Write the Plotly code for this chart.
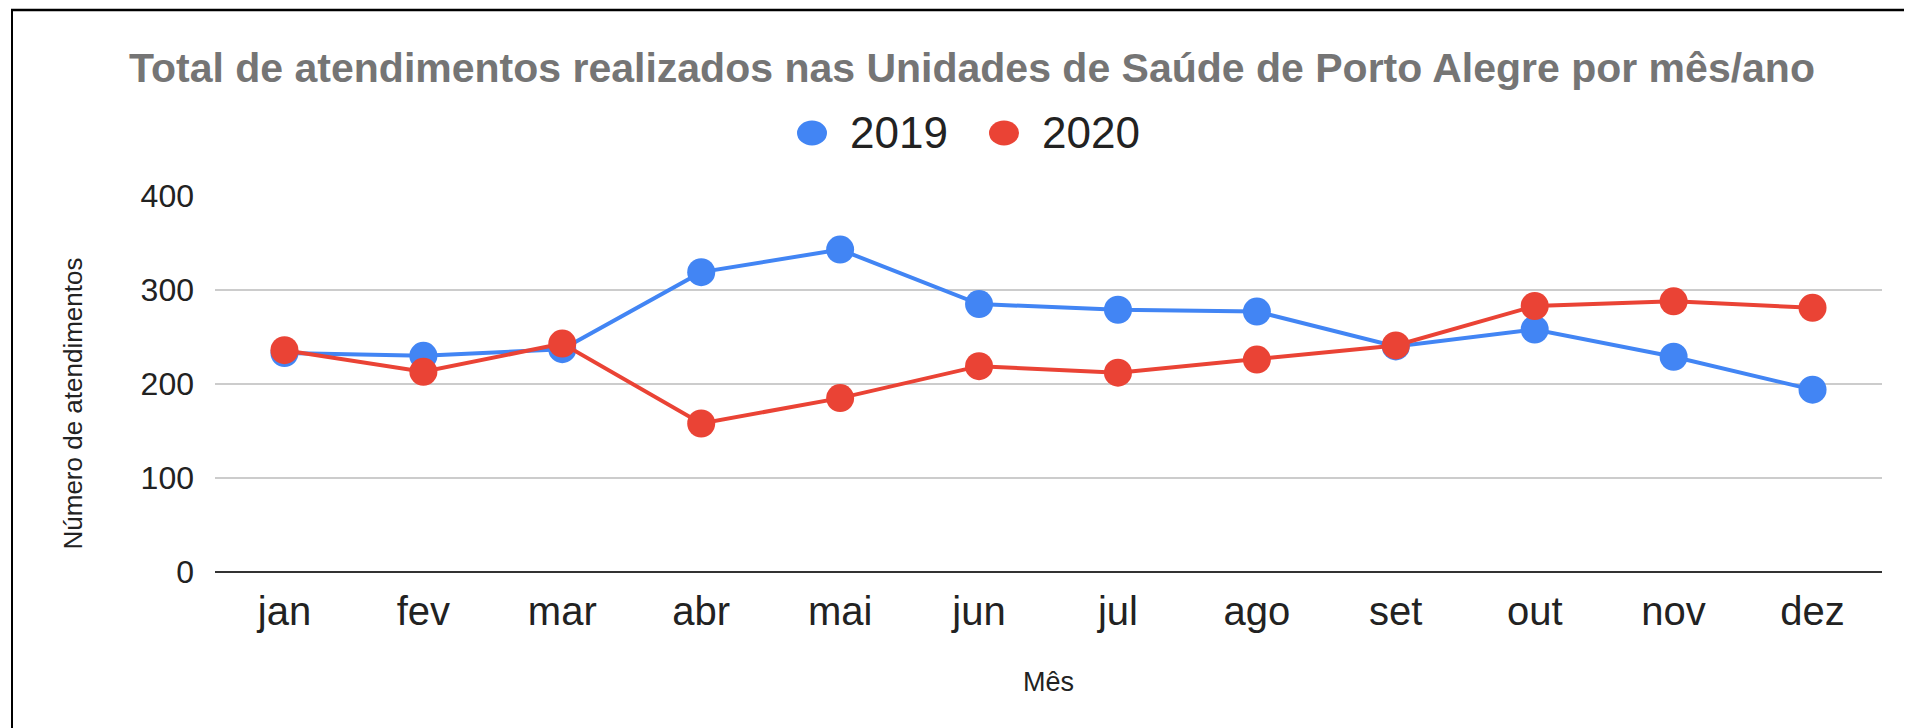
import plotly.graph_objects as go

months = ["jan", "fev", "mar", "abr", "mai", "jun", "jul", "ago", "set", "out", "nov", "dez"]
values_2019 = [233, 230, 237, 319, 343, 285, 279, 277, 240, 258, 229, 194]
values_2020 = [236, 213, 243, 158, 185, 219, 212, 226, 241, 283, 288, 281]
y_ticks = [0, 100, 200, 300, 400]
series_names = ["2019", "2020"]

title_text = "Total de atendimentos realizados nas Unidades de Saúde de Porto Alegre por mês/ano"
x_title = "Mês"
y_title = "Número de atendimentos"

FONT = "Liberation Sans, Arial, sans-serif"
BLUE = "#4285F4"
RED = "#EA4335"

# the page body has an 8px default margin; work in screen pixels and shift
OFF = 8
SW, SH = 1912, 728
W, H = SW - OFF, SH - OFF
# plot area in screen pixels
PX0, PX1, PY0, PY1 = 215, 1882, 196, 572

L, R, T, B = PX0 - OFF, SW - PX1, PY0 - OFF, SH - PY1

fig = go.Figure()
fig.add_trace(go.Scatter(x=months, y=values_2019, name=series_names[0], mode="lines+markers",
                         line=dict(color=BLUE, width=4), marker=dict(size=28, color=BLUE),
                         showlegend=False))
fig.add_trace(go.Scatter(x=months, y=values_2020, name=series_names[1], mode="lines+markers",
                         line=dict(color=RED, width=4), marker=dict(size=28, color=RED),
                         showlegend=False))

pw = PX1 - PX0
ph = PY1 - PY0
def px_x(px):
    return (px - PX0) / pw
def px_y(py):
    return (PY1 - py) / ph

shapes = [
    dict(type="line", xref="paper", yref="paper", x0=px_x(12), x1=px_x(12), y0=px_y(9), y1=px_y(740),
         line=dict(color="black", width=2)),
    dict(type="line", xref="paper", yref="paper", x0=px_x(11), x1=px_x(1920), y0=px_y(10), y1=px_y(10),
         line=dict(color="black", width=2.5)),
]

# custom legend (circle symbols + labels)
legend_items = [(series_names[0], BLUE, 812, 848), (series_names[1], RED, 1004, 1040)]
annotations = []
for name, col, cx, tx in legend_items:
    shapes.append(dict(type="circle", xref="paper", yref="paper",
                       x0=px_x(cx - 15), x1=px_x(cx + 15), y0=px_y(133 + 12.5), y1=px_y(133 - 12.5),
                       fillcolor=col, line=dict(width=0)))
    annotations.append(dict(text=name, xref="paper", yref="paper", x=px_x(tx), y=px_y(133),
                            xanchor="left", yanchor="middle", showarrow=False,
                            font=dict(size=44, color="#222222", family=FONT)))

# y-axis title (placed as in the reference, below the plot-area centre)
annotations.append(dict(text=y_title, xref="paper", yref="paper", x=px_x(72.5), y=px_y(404),
                        xanchor="center", yanchor="middle", textangle=-90, showarrow=False,
                        font=dict(size=26, color="#222222", family=FONT)))

fig.update_layout(
    width=W, height=H,
    margin=dict(l=L, r=R, t=T, b=B, autoexpand=False),
    paper_bgcolor="white", plot_bgcolor="white",
    font=dict(family=FONT, color="#222222"),
    title=dict(text="<b>" + title_text + "</b>", x=(972 - OFF) / W, xanchor="center",
               xref="container", y=1 - (68 - OFF) / H, yref="container", yanchor="middle",
               font=dict(size=41, color="#757575", family=FONT)),
    showlegend=False,
    shapes=shapes,
    annotations=annotations,
    xaxis=dict(range=[-0.5, len(months) - 0.5], showgrid=False, showline=False, zeroline=False,
               ticks="", tickfont=dict(size=40, color="#222222"), ticklabelstandoff=12,
               title=dict(text=x_title, font=dict(size=27, color="#222222"), standoff=40)),
    yaxis=dict(range=[0, 400], tickvals=y_ticks, showgrid=True, gridcolor="#cccccc", gridwidth=1.5,
               zeroline=True, zerolinecolor="#333333", zerolinewidth=2, showline=False,
               ticks="", tickfont=dict(size=32, color="#222222"), ticklabelstandoff=20),
)

fig.write_html("out.html")
